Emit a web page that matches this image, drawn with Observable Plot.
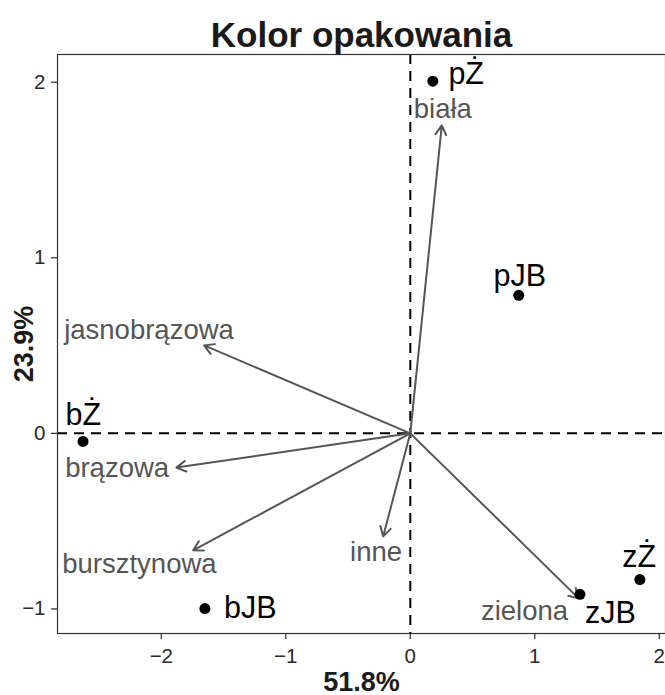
<!DOCTYPE html>
<html>
<head>
<meta charset="utf-8">
<script src="https://cdn.jsdelivr.net/npm/d3@7"></script>
<script src="https://cdn.jsdelivr.net/npm/@observablehq/plot@0.6"></script>
<style>
  html, body { margin: 0; padding: 0; background: #fff; }
  #chart svg { display: block; }
</style>
</head>
<body>
<div id="chart"></div>
<script>
// Samples (points)
const sampleNames = ["pŻ", "pJB", "bŻ", "bJB", "zŻ", "zJB"];
const sampleX = [0.181, 0.871, -2.629, -1.650, 1.844, 1.363];
const sampleY = [2.006, 0.786, -0.046, -0.998, -0.833, -0.917];
const sampleLabelX = [0.449, 0.879, -2.626, -1.285, 1.839, 1.608];
const sampleLabelY = [2.044, 0.896, 0.104, -0.997, -0.703, -1.025];

// Variables (arrows)
const colorNames = ["biała", "jasnobrązowa", "brązowa", "bursztynowa", "inne", "zielona"];
const loadX = [0.253, -1.656, -1.879, -1.744, -0.218, 1.352];
const loadY = [1.754, 0.501, -0.195, -0.666, -0.587, -0.940];
const colorLabelX = [0.261, -2.099, -2.355, -2.176, -0.275, 0.917];
const colorLabelY = [1.847, 0.587, -0.198, -0.748, -0.676, -1.012];

const xTicks = [-2, -1, 0, 1, 2];
const yTicks = [-1, 0, 1, 2];
const titleText = "Kolor opakowania";
const xTitle = "51.8%";
const yTitle = "23.9%";

const samples = sampleNames.map((n, i) => ({name: n, x: sampleX[i], y: sampleY[i], lx: sampleLabelX[i], ly: sampleLabelY[i]}));
const vars = colorNames.map((n, i) => ({name: n, x: loadX[i], y: loadY[i], lx: colorLabelX[i], ly: colorLabelY[i]}));

const W = 665, H = 695;
const mL = 57, mT = 54, mB = 62, mR = 0;

const plot = Plot.plot({
  width: W,
  height: H,
  marginLeft: mL,
  marginTop: mT,
  marginBottom: mB,
  marginRight: mR,
  style: {fontFamily: "'Liberation Sans', Arial, Helvetica, sans-serif", background: "#fff", overflow: "visible"},
  x: {domain: [-2.834, 2.050]},
  y: {domain: [-1.140, 2.158]},
  marks: [
    Plot.ruleX([0], {stroke: "#000", strokeWidth: 2, strokeDasharray: "10,7"}),
    Plot.ruleY([0], {stroke: "#000", strokeWidth: 2, strokeDasharray: "10,7"}),
    Plot.arrow(vars, {x1: () => 0, y1: () => 0, x2: "x", y2: "y", stroke: "#555", strokeWidth: 2, headLength: 8, headAngle: 60}),
    Plot.dot(samples, {x: "x", y: "y", r: 5.5, fill: "#000", stroke: "none"}),
    Plot.text(samples, {x: "lx", y: "ly", text: "name", fontSize: 30.5, fill: "#000", textAnchor: "middle", lineAnchor: "middle"}),
    Plot.text(vars, {x: "lx", y: "ly", text: "name", fontSize: 27.5, fill: "#555", textAnchor: "middle", lineAnchor: "middle"}),
    Plot.frame({stroke: "#333", strokeWidth: 1.2}),
    Plot.axisX({ticks: xTicks, tickFormat: "d", tickSize: 6, tickPadding: 9, fontSize: 20.5, label: null, color: "#2a2a2a", strokeWidth: 1.2}),
    Plot.axisY({ticks: yTicks, tickFormat: "d", tickSize: 6, tickPadding: 6, fontSize: 20.5, label: null, color: "#2a2a2a", strokeWidth: 1.2}),
    Plot.text([titleText], {frameAnchor: "top", text: d => d, dy: -8, lineAnchor: "bottom", textAnchor: "middle", fontSize: 35, fontWeight: "bold", fill: "#1a1a1a"}),
    Plot.text([xTitle], {frameAnchor: "bottom", text: d => d, dy: 57, lineAnchor: "bottom", textAnchor: "middle", fontSize: 27, fontWeight: "bold", fill: "#1a1a1a"}),
    Plot.text([yTitle], {frameAnchor: "left", text: d => d, dx: -33, rotate: -90, lineAnchor: "middle", textAnchor: "middle", fontSize: 27, fontWeight: "bold", fill: "#1a1a1a"})
  ]
});
document.getElementById("chart").appendChild(plot);
</script>
</body>
</html>
